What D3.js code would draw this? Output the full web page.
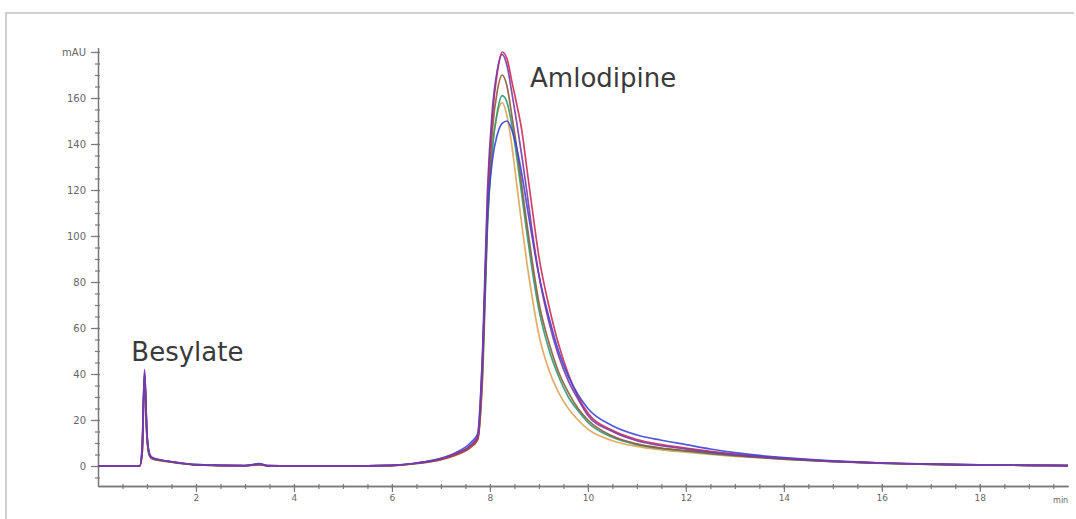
<!DOCTYPE html>
<html>
<head>
<meta charset="utf-8">
<script src="https://cdn.jsdelivr.net/npm/d3@7"></script>
<style>
  html, body { margin: 0; padding: 0; background: #fff; }
  svg { display: block; }
</style>
</head>
<body>
<div id="chart"></div>
<script>
// retention time (min), shared by all runs
const times = [0, 0.85, 0.9, 0.95, 1.0, 1.05, 1.1, 1.3, 1.6, 2, 3, 3.3, 3.45, 4, 5, 6, 6.5, 7, 7.3, 7.6,
  7.75, 7.85, 7.95, 8.05, 8.15, 8.25, 8.35, 8.45, 8.55, 8.65, 8.75, 8.85, 9.0, 9.2, 9.4, 9.6, 9.8, 10,
  10.5, 11, 11.5, 12, 12.5, 13, 14, 15, 16, 17, 18, 19, 19.8];

// absorbance (mAU) for each overlaid injection
const runOrange = [0, 0, 5, 38, 12, 4.5, 3.2, 2.2, 1.3, 0.5, 0.1, 0.5, 0.1, 0, 0, 0.2, 1, 2.7, 4.6, 8, 11.5, 38, 104, 138, 153, 158, 152, 139, 122, 105, 89, 75, 57, 42, 32, 25, 20, 16, 11, 8.5, 7, 6, 5, 4.2, 2.9, 1.9, 1.1, 0.7, 0.4, 0.3, 0.2];
const runGreen = [0, 0, 6, 40, 13, 5, 3.4, 2.4, 1.4, 0.5, 0.1, 0.8, 0.1, 0, 0, 0.2, 1.2, 3, 5, 8.5, 12, 40, 105, 138, 154, 161, 158, 148, 134, 118, 102, 87, 68, 51, 39, 30, 24, 19, 12.5, 9.3, 7.6, 6.5, 5.4, 4.5, 3, 1.9, 1.2, 0.7, 0.4, 0.3, 0.2];
const runBrown = [0, 0, 5, 39, 12, 4.5, 3.2, 2.3, 1.4, 0.5, 0.1, 0.6, 0.1, 0, 0, 0.2, 1.1, 2.8, 4.8, 8, 11.5, 42, 110, 146, 163, 170, 165, 152, 138, 122, 106, 91, 71, 54, 41, 32, 25, 20, 13, 9.6, 7.8, 6.7, 5.6, 4.6, 3.1, 2, 1.2, 0.7, 0.4, 0.3, 0.2];
const runRed = [0, 0, 5, 40, 13, 5, 3.5, 2.5, 1.5, 0.6, 0.2, 0.9, 0.2, 0, 0, 0.3, 1.2, 3, 5, 8.5, 12, 45, 115, 152, 171, 180, 177, 167, 157, 146, 130, 114, 91, 70, 53, 40, 30, 23, 15.5, 11.5, 9.3, 7.8, 6.4, 5.2, 3.4, 2.1, 1.3, 0.8, 0.5, 0.3, 0.2];
const runBlue = [0, 0, 8, 41, 14, 5.5, 3.8, 2.6, 1.6, 0.6, 0.2, 1, 0.2, 0, 0, 0.3, 1.3, 3.3, 5.8, 10, 14, 48, 108, 133, 144, 149, 150, 146, 138, 127, 114, 101, 83, 65, 50, 39, 31, 25, 17.5, 13.5, 11.2, 9.3, 7.4, 5.8, 3.6, 2.2, 1.3, 0.8, 0.5, 0.3, 0.2];
const runPurple = [0, 0, 7, 42, 14, 5, 3.5, 2.5, 1.5, 0.6, 0.2, 0.7, 0.2, 0, 0, 0.3, 1.3, 3.2, 5.5, 9, 13, 50, 120, 155, 172, 179, 174, 162, 149, 135, 120, 104, 83, 63, 48, 37, 29, 22, 15, 11, 8.8, 7.4, 6, 4.8, 3.2, 2, 1.2, 0.8, 0.5, 0.3, 0.2];

const runs = [runOrange, runGreen, runBrown, runRed, runBlue, runPurple];
const runColors = ['#dca456', '#2e9a72', '#8c5a3a', '#cc2f55', '#3b46d6', '#7a3aa6'];

const xTicks = [2, 4, 6, 8, 10, 12, 14, 16, 18];
const yTicks = [0, 20, 40, 60, 80, 100, 120, 140, 160, 180];

const peakLabels = [
  {name: 'Besylate', t: 0.68, v: 45.5},
  {name: 'Amlodipine', t: 8.82, v: 165}
];

function drawChart() {
    const W = 1076, H = 519;

    const svg = d3.select('#chart')
        .append('svg')
        .attr('width', W)
        .attr('height', H);

    // frame of the screenshot (top and left edges only)
    svg.append('path')
        .attr('d', 'M6,519V13H1074')
        .attr('fill', 'none')
        .attr('stroke', '#cfcfcf')
        .attr('stroke-width', 2);

    const x = d3.scaleLinear().domain([0, 19.8]).range([98, 1068]);
    const y = d3.scaleLinear().domain([0, 180]).range([466, 52]);

    const axisColor = '#7a7a7a';
    const labelColor = '#666';

    // x axis (y = 486 px sits at about -8.7 mAU)
    const xAxisY = y(-8.7);
    const xg = svg.append('g').attr('transform', `translate(0,${xAxisY})`);
    xg.call(d3.axisBottom(x).tickValues(d3.range(0.5, 19.8, 0.5)).tickSize(3).tickSizeOuter(0).tickFormat(''));
    xg.call(g => g.append('g').call(d3.axisBottom(x).tickValues(xTicks).tickSize(6).tickSizeOuter(0).tickFormat(d3.format('d'))));
    xg.selectAll('path').attr('stroke', axisColor).attr('stroke-width', 1.3);
    xg.selectAll('line').attr('stroke', axisColor).attr('stroke-width', 1.2).attr('y1', -2);
    xg.selectAll('text')
        .attr('fill', labelColor)
        .style('font-family', 'DejaVu Sans, sans-serif')
        .style('font-size', '9px');
    xg.append('text')
        .attr('x', x(19.65)).attr('y', 17)
        .attr('text-anchor', 'middle')
        .attr('fill', labelColor)
        .style('font-family', 'DejaVu Sans, sans-serif')
        .style('font-size', '8px')
        .text('min');

    // y axis
    const yAxisScale = d3.scaleLinear().domain([-8.7, 182]).range([xAxisY, y(182)]);
    const yg = svg.append('g').attr('transform', `translate(${x(0)},0)`);
    yg.call(d3.axisLeft(yAxisScale).tickValues(d3.range(-5, 181, 5)).tickSize(3).tickSizeOuter(0).tickFormat(''));
    yg.call(g => g.append('g').call(d3.axisLeft(yAxisScale).tickValues(yTicks).tickSize(7).tickSizeOuter(0)
        .tickFormat(d => d === 180 ? 'mAU' : d)));
    yg.selectAll('path').attr('stroke', axisColor).attr('stroke-width', 1.3);
    yg.selectAll('line').attr('stroke', axisColor).attr('stroke-width', 1.2).attr('x1', 2);
    yg.selectAll('text')
        .attr('fill', labelColor)
        .attr('x', -12)
        .style('font-family', 'DejaVu Sans, sans-serif')
        .style('font-size', '10px');

    // traces
    const line = d3.line()
        .x((d, i) => x(times[i]))
        .y(d => y(d))
        .curve(d3.curveMonotoneX);

    svg.append('defs').append('filter')
        .attr('id', 'soft')
        .append('feGaussianBlur')
        .attr('stdDeviation', 0.4);

    svg.append('g')
        .attr('filter', 'url(#soft)')
        .selectAll('path')
        .data(runs)
        .enter()
        .append('path')
        .attr('d', line)
        .attr('fill', 'none')
        .attr('stroke', (d, i) => runColors[i])
        .attr('stroke-width', 1.7)
        .attr('stroke-opacity', 0.9);

    // peak names
    svg.selectAll('.peak-label')
        .data(peakLabels)
        .enter()
        .append('text')
        .attr('class', 'peak-label')
        .attr('x', d => x(d.t))
        .attr('y', d => y(d.v))
        .attr('fill', '#3a3a3a')
        .style('font-family', 'DejaVu Sans, sans-serif')
        .style('font-size', '26px')
        .text(d => d.name);
}

drawChart();
</script>
</body>
</html>
